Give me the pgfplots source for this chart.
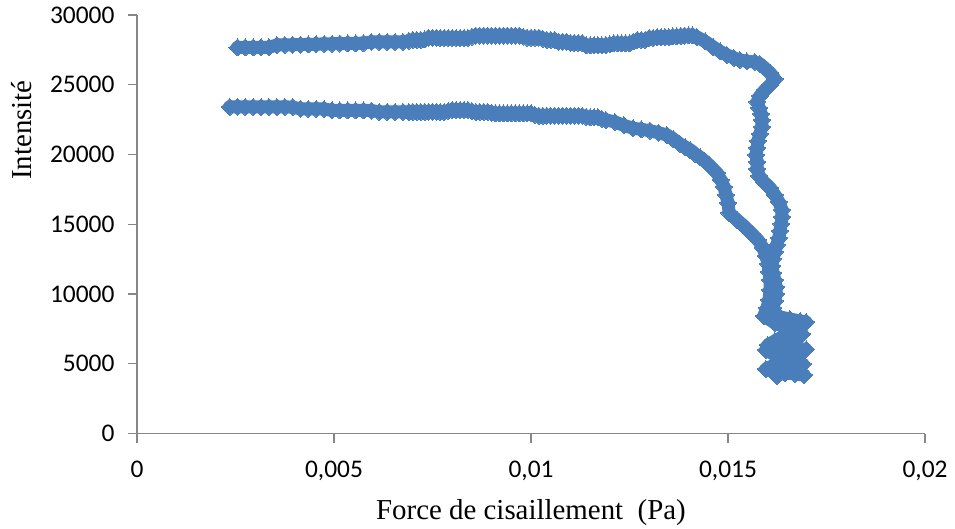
\documentclass[border=0pt]{standalone}
\usepackage{pgfplots}
\pgfplotsset{compat=1.18}
\usepackage{fontspec}
\setmainfont{Liberation Serif}
\newfontfamily\carlito{Carlito}
\definecolor{serblue}{RGB}{74,126,187}
\definecolor{axgray}{RGB}{134,134,134}
\begin{document}
\begin{tikzpicture}
\begin{axis}[
  at={(0,0)}, anchor=south west,
  scale only axis, width=788bp, height=418.5bp,
  xmin=0, xmax=0.02, ymin=0, ymax=30000,
  axis x line*=bottom, axis y line*=left,
  axis line style={axgray, line width=1.2bp},
  tick style={axgray, line width=1.2bp},
  tick align=outside, major tick length=9bp,
  scaled x ticks=false, scaled y ticks=false,
  xtick={0,0.005,0.01,0.015,0.02},
  xticklabels={0,{0,005},{0,01},{0,015},{0,02}},
  ytick={0,5000,10000,15000,20000,25000,30000},
  yticklabels={0,5000,10000,15000,20000,25000,30000},
  ticklabel style={font=\carlito\fontsize{25.5}{25.5}\selectfont, text=black},
  xticklabel style={yshift=-15bp},
  yticklabel style={xshift=-10bp},
  xlabel={Force de cisaillement\ \ (Pa)},
  ylabel={Intensité},
  label style={font=\fontsize{29}{29}\selectfont},
  xlabel style={at={(axis description cs:0.5,-0.19)}, anchor=center},
  ylabel style={at={(axis description cs:-0.146,0.725)}, anchor=center, rotate=0},
  clip=false,
]
\addplot[serblue, line width=13bp, line join=round, line cap=round,
  mark=square*, mark size=6bp, mark options={rotate=45, line width=0pt, fill=serblue, draw=serblue}]
coordinates {
(0.00255,27680)(0.00275,27680)(0.00295,27680)(0.00315,27680)(0.00335,27690)(0.00355,27850)(0.00375,27860)(0.00395,27870)(0.00415,27880)(0.00435,27890)(0.00455,27910)(0.00475,27930)(0.00495,27940)(0.00515,27950)(0.00535,27960)(0.00555,27970)(0.00575,27980)(0.00595,28070)(0.00615,28070)(0.00635,28070)(0.00655,28070)(0.00675,28070)
(0.0069,28150)(0.0070,28214)(0.0071,28214)(0.0072,28214)(0.0073,28250)(0.0074,28358)(0.0075,28358)(0.0076,28358)(0.0077,28358)(0.0078,28358)(0.0079,28358)(0.0080,28358)(0.0081,28358)(0.0082,28358)(0.0083,28358)(0.0084,28358)(0.0085,28450)(0.0086,28522)(0.0087,28522)(0.0088,28522)(0.0089,28522)(0.0090,28522)(0.0091,28522)(0.0092,28522)(0.0093,28522)(0.0094,28522)(0.0095,28522)(0.0096,28522)(0.0097,28522)(0.0098,28450)(0.0099,28379)(0.0100,28379)(0.0101,28379)(0.0102,28379)(0.0103,28300)(0.0104,28214)(0.0105,28214)(0.0106,28214)(0.0107,28092)(0.0108,28092)(0.0109,28092)(0.0110,27999)(0.0111,27999)(0.0112,27999)(0.0113,27999)(0.0114,27819)(0.0115,27819)(0.0116,27819)(0.0117,27819)(0.0118,27819)(0.0119,27850)(0.0120,27900)(0.0121,27963)(0.0122,27963)(0.0123,27963)(0.0124,27963)(0.0125,27963)(0.0126,28100)(0.0127,28214)(0.0128,28214)(0.0129,28214)(0.0130,28358)(0.0131,28358)(0.0132,28400)(0.0133,28400)(0.0134,28430)(0.0135,28430)(0.0136,28460)(0.0137,28460)(0.0138,28500)(0.0139,28522)(0.0140,28537)(0.0141,28537)
(0.01421,28429)(0.01442,28106)(0.01462,27712)(0.01480,27389)(0.01497,27138)(0.01515,26923)(0.01530,26780)(0.01548,26672)(0.01568,26636)(0.01581,26493)(0.01593,26206)(0.01607,25848)(0.01619,25418)
(0.01607,24988)(0.01594,24629)(0.01581,24199)(0.01574,23769)(0.01579,23339)(0.01584,22908)(0.01586,22478)(0.01586,21976)(0.01581,21474)(0.01576,20972)(0.01574,20470)(0.01571,19968)(0.01574,19467)(0.01574,18965)(0.01579,18463)(0.01591,18033)(0.01607,17603)(0.01619,17101)(0.01629,16599)(0.01637,16025)(0.01637,15523)(0.01635,15021)(0.01632,14519)(0.01629,14017)(0.01624,13516)(0.01619,13014)(0.01614,12512)(0.01612,12010)(0.01614,11508)(0.01619,11006)(0.01622,10504)(0.01622,10002)(0.01619,9500)(0.01614,8998)(0.01609,8568)
(0.01632,8353)(0.01657,8209)(0.01683,8066)(0.01698,7994)(0.01678,7636)(0.01657,7277)(0.01637,6919)(0.01619,6632)(0.01601,6345)(0.01632,6202)(0.01657,6130)(0.01683,6058)(0.01698,6023)(0.01675,5700)(0.01652,5413)(0.01632,5127)(0.01612,4840)(0.01596,4624)(0.01619,4481)(0.01645,4338)(0.01670,4266)(0.01693,4194)
};
\addplot[serblue, line width=13bp, line join=round, line cap=round,
  mark=square*, mark size=6bp, mark options={rotate=45, line width=0pt, fill=serblue, draw=serblue}]
coordinates {
(0.00235,23410)(0.00255,23410)(0.00275,23410)(0.00295,23410)(0.00315,23410)(0.00335,23410)(0.00355,23410)(0.00375,23410)(0.00395,23400)(0.00415,23267)(0.00435,23267)(0.00455,23267)(0.00475,23260)(0.00495,23159)(0.00515,23159)(0.00535,23159)(0.00555,23159)(0.00575,23159)(0.00595,23150)(0.00615,23052)(0.00635,23052)(0.00655,23052)(0.00675,23052)
(0.0069,23052)(0.0070,23052)(0.0071,23052)(0.0072,23052)(0.0073,23052)(0.0074,23052)(0.0075,23052)(0.0076,23052)(0.0077,23052)(0.0078,23052)(0.0079,23120)(0.0080,23195)(0.0081,23195)(0.0082,23195)(0.0083,23195)(0.0084,23195)(0.0085,23100)(0.0086,23052)(0.0087,23052)(0.0088,23052)(0.0089,23052)(0.0090,23000)(0.0091,22944)(0.0092,22944)(0.0093,22944)(0.0094,22944)(0.0095,22944)(0.0096,22944)(0.0097,22944)(0.0098,22944)(0.0099,22944)(0.0100,22944)(0.0101,22850)(0.0102,22779)(0.0103,22779)(0.0104,22779)(0.0105,22779)(0.0106,22779)(0.0107,22779)(0.0108,22779)(0.0109,22779)(0.0110,22779)(0.0111,22779)(0.0112,22779)(0.0113,22779)(0.0114,22700)(0.0115,22657)(0.0116,22657)(0.0117,22657)(0.0118,22550)(0.0119,22478)
(0.01213,22335)(0.01236,22084)(0.01259,21883)(0.01280,21800)(0.01302,21711)(0.01323,21560)(0.01345,21402)(0.01362,21100)(0.01378,20757)(0.01391,20540)(0.01404,20327)(0.01416,20060)(0.01429,19804)(0.01441,19530)(0.01452,19251)(0.01462,18960)(0.01472,18678)(0.01482,18176)(0.01490,17674)(0.01495,17101)(0.01500,16527)(0.01503,15810)(0.01523,15308)(0.01543,14806)(0.01561,14304)(0.01576,13874)
(0.01589,13300)(0.01596,12727)(0.01602,12153)(0.01604,11580)(0.01607,11006)(0.01607,10289)(0.01604,9572)(0.01599,8998)(0.01591,8425)(0.01619,7923)(0.01645,7636)(0.01670,7349)(0.01688,7134)(0.01670,6847)(0.01645,6560)(0.01619,6274)(0.01596,5987)(0.01619,5628)(0.01645,5342)(0.01670,5127)(0.01690,4983)(0.01670,4696)(0.01645,4409)(0.01624,4122)
};
\end{axis}
\pgfresetboundingbox
\path (-137bp,-95.5bp) rectangle (818bp,433.5bp);
\end{tikzpicture}
\end{document}
